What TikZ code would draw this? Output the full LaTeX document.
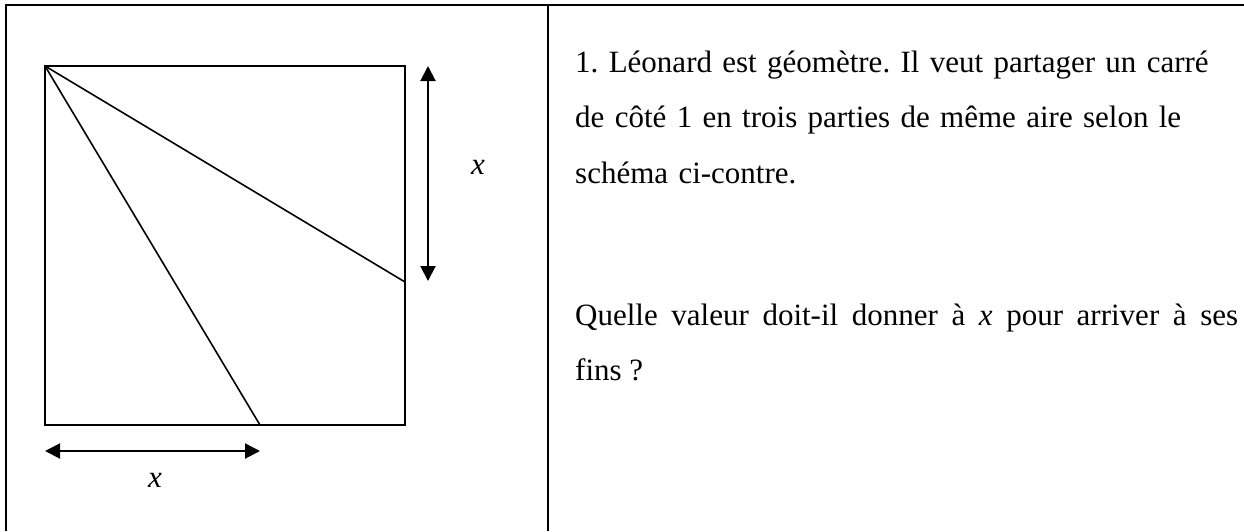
\documentclass[tikz,border=0pt]{standalone}
\usepackage{fontspec}
\setmainfont{Liberation Serif}
\frenchspacing
\usetikzlibrary{arrows.meta}
\tikzset{
  frame/.style={line width=2pt},
  fig/.style={line width=1.6pt},
  dim/.style={line width=2pt, {Triangle[length=15pt,width=15pt]}-{Triangle[length=15pt,width=15pt]}},
  txt/.style={inner sep=0pt, font=\fontsize{31}{55.5}\selectfont}
}
\begin{document}
\begin{tikzpicture}[x=1pt,y=-1pt]
  \useasboundingbox (0,0) rectangle (1244,531);
  % table
  \draw[frame] (6,531) -- (6,5) -- (1244,5);
  \draw[frame] (548,5) -- (548,531);
  % square
  \coordinate (A) at (45,66);
  \coordinate (B) at (405,66);
  \coordinate (C) at (405,425);
  \coordinate (D) at (45,425);
  \coordinate (P) at (405,282);
  \coordinate (Q) at (260,425);
  \draw[fig] (A) -- (B) -- (C) -- (D) -- cycle;
  \draw[fig] (A) -- (P);
  \draw[fig] (A) -- (Q);
  % dimensions
  \coordinate (v1) at (428,66);
  \coordinate (v2) at (428,281);
  \coordinate (h1) at (45,451);
  \coordinate (h2) at (260,451);
  \draw[dim] (v1) -- (v2);
  \draw[dim] (h1) -- (h2);
  \node[txt] (xv) at (478,167) {\textit{x}};
  \node[txt] (xh) at (155,480) {\textit{x}};
  % text
  \node[txt, anchor=base west, text width=665pt, align=left] (para1) at (575,72)
    {1. Léonard est géomètre. Il veut partager un carré\\de côté 1 en trois parties de même aire selon le\\schéma ci-contre.};
  \node[txt, anchor=base west, text width=663pt, align=justify] (para2) at (575,325)
    {Quelle valeur doit-il donner à \textit{x} pour arriver à ses\linebreak fins ?};
\end{tikzpicture}
\end{document}
